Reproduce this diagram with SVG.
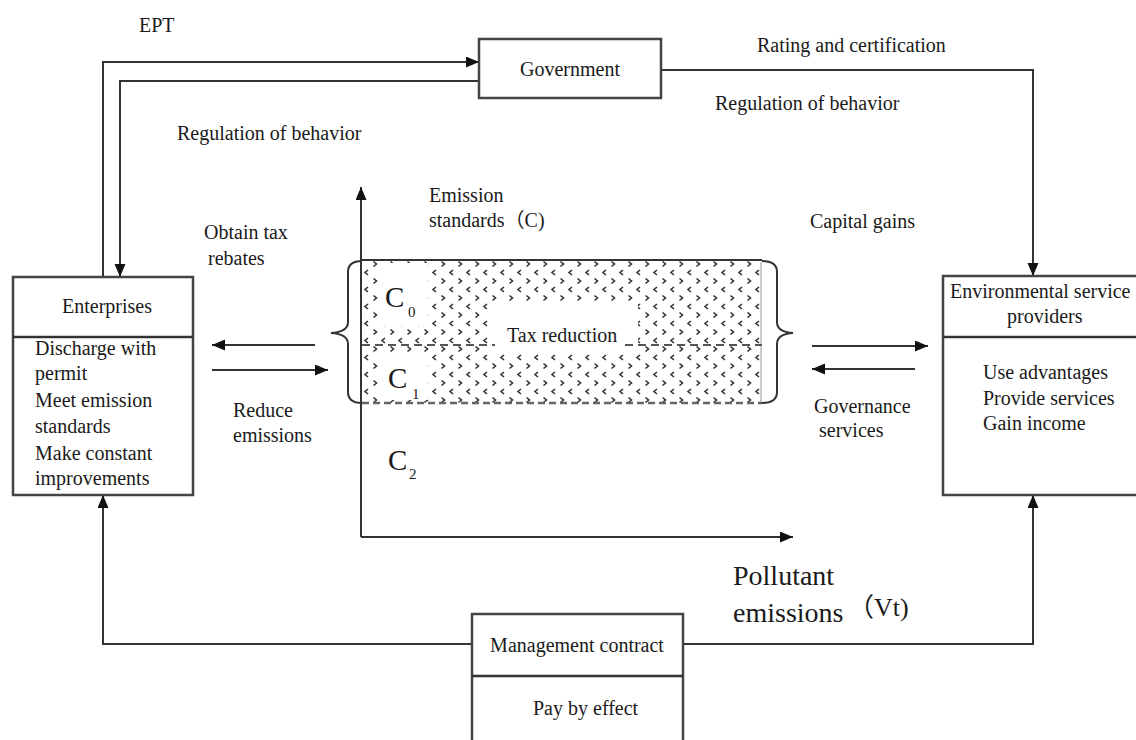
<svg xmlns="http://www.w3.org/2000/svg" width="1136" height="740" viewBox="0 0 1136 740">
<style>
text{font-family:"Liberation Serif","Noto Sans CJK SC",serif;font-size:20px;fill:#1a1a1a}
.box{fill:#fff;stroke:#444;stroke-width:2.5}
.div{stroke:#333;stroke-width:2.5}
.ln{fill:none;stroke:#333;stroke-width:2}
.big{font-size:28px}
.cc{font-size:29px}
.sub{font-size:15px}
.vt{font-size:26px}
</style>
<defs>
<marker id="ah" markerUnits="userSpaceOnUse" markerWidth="14" markerHeight="12" refX="13" refY="5.5" orient="auto">
<path d="M0,0 L13,5.5 L0,11 z" fill="#111"/>
</marker>
<pattern id="pat" width="17" height="17" patternUnits="userSpaceOnUse" x="371" y="260">
<path d="M2.5,1.5 l3,2.5 l-3,2.5" fill="none" stroke="#333" stroke-width="1.6"/>
<path d="M14,10 l-3,2.5 l3,2.5" fill="none" stroke="#333" stroke-width="1.6"/>
</pattern>
</defs>

<g id="connectors">
<path class="ln" d="M103,277 V62 H479" marker-end="url(#ah)"/>
<path class="ln" d="M479,81 H120 V277" marker-end="url(#ah)"/>
<path class="ln" d="M661,70 H1033 V276" marker-end="url(#ah)"/>
<path class="ln" d="M361,537 V187" marker-end="url(#ah)"/>
<path class="ln" d="M361,537 H793" marker-end="url(#ah)"/>
<path class="ln" d="M315,345 H212" marker-end="url(#ah)"/>
<path class="ln" d="M212,370 H328" marker-end="url(#ah)"/>
<path class="ln" d="M812,346 H928" marker-end="url(#ah)"/>
<path class="ln" d="M915,369 H812" marker-end="url(#ah)"/>
<path class="ln" d="M472,644 H103 V495" marker-end="url(#ah)"/>
<path class="ln" d="M683,644 H1033 V495" marker-end="url(#ah)"/>
</g>

<g id="government">
<rect class="box" x="479" y="39" width="182" height="59"/>
<text x="570" y="76" text-anchor="middle">Government</text>
</g>

<g id="enterprises">
<rect class="box" x="13" y="277" width="180" height="218"/>
<line class="div" x1="13" y1="337" x2="193" y2="337"/>
<text x="107" y="313" text-anchor="middle">Enterprises</text>
<text x="35" y="355">Discharge with</text>
<text x="35" y="380">permit</text>
<text x="35" y="407">Meet emission</text>
<text x="35" y="433">standards</text>
<text x="35" y="460">Make constant</text>
<text x="35" y="485">improvements</text>
</g>

<g id="env-providers">
<rect class="box" x="943" y="276" width="200" height="219"/>
<line class="div" x1="943" y1="337" x2="1140" y2="337"/>
<text x="950" y="298">Environmental service</text>
<text x="1007" y="323">providers</text>
<text x="983" y="379">Use advantages</text>
<text x="983" y="405">Provide services</text>
<text x="983" y="430">Gain income</text>
</g>

<g id="management-contract">
<rect class="box" x="472" y="614" width="211" height="140"/>
<line class="div" x1="472" y1="676" x2="683" y2="676"/>
<text x="577" y="652" text-anchor="middle">Management contract</text>
<text x="533" y="715">Pay by effect</text>
</g>

<g id="emission-zone">
<rect x="362" y="260" width="400" height="143" rx="8" fill="url(#pat)"/>
<rect x="378" y="263" width="50" height="63" fill="#fff"/>
<rect x="378" y="352" width="50" height="48" fill="#fff"/>
<rect x="492" y="303" width="146" height="50" fill="#fff"/>
<line x1="362" y1="260" x2="762" y2="260" stroke="#333" stroke-width="2"/>
<line x1="761" y1="262" x2="761" y2="402" stroke="#bbb" stroke-width="1.5"/>
<line x1="362" y1="403" x2="762" y2="403" stroke="#666" stroke-width="2.5" stroke-dasharray="7,4"/>
<line x1="362" y1="345" x2="495" y2="345" stroke="#555" stroke-width="2" stroke-dasharray="8,5"/>
<line x1="625" y1="345" x2="762" y2="345" stroke="#555" stroke-width="2" stroke-dasharray="8,5"/>
<path class="ln" stroke="#555" d="M362,261 Q348,261 348,272 L348,322 Q348,332 331,333 Q348,334 348,344 L348,392 Q348,403 362,403"/>
<path class="ln" stroke="#555" d="M762,261 Q777,261 777,272 L777,322 Q777,332 793,333 Q777,334 777,344 L777,392 Q777,403 762,403"/>
<text x="385" y="307" class="cc">C<tspan class="sub" x="408" y="317">0</tspan></text>
<text x="388" y="388" class="cc">C<tspan class="sub" x="412" y="399">1</tspan></text>
<text x="507" y="342">Tax reduction</text>
</g>

<g id="labels">
<text x="139" y="32">EPT</text>
<text x="177" y="140">Regulation of behavior</text>
<text x="757" y="52">Rating and certification</text>
<text x="715" y="110">Regulation of behavior</text>
<text x="429" y="202">Emission</text>
<text x="429" y="227">standards（C)</text>
<text x="810" y="228">Capital gains</text>
<text x="204" y="239">Obtain tax</text>
<text x="208" y="265">rebates</text>
<text x="233" y="417">Reduce</text>
<text x="233" y="442">emissions</text>
<text x="814" y="413">Governance</text>
<text x="819" y="437">services</text>
<text x="388" y="470" class="cc">C<tspan class="sub" x="409" y="479">2</tspan></text>
<text x="733" y="585" class="big">Pollutant</text>
<text x="733" y="622" class="big">emissions</text>
<text x="848" y="616" class="vt">（Vt)</text>
</g>
</svg>
